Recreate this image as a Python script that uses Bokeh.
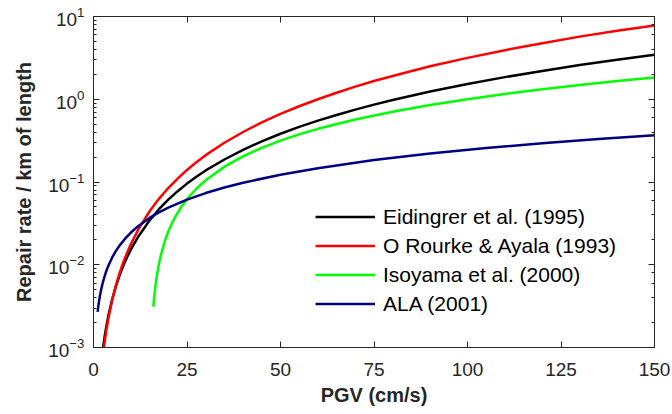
from bokeh.plotting import figure
from bokeh.models import LinearAxis, LogAxis, Legend, LegendItem, FixedTicker, Range1d, LogTicker
from bokeh.embed import file_html
from bokeh.resources import INLINE

# ---- data ----
x_ticks = [0, 25, 50, 75, 100, 125, 150]

pgv_eid = [2.4, 2.56, 3, 3.5, 4, 5, 6, 7, 8, 9, 10, 12, 15, 17.5, 20, 22.5, 25, 27.5, 30, 35, 40, 45,
           50, 55, 60, 65, 70, 75, 80, 90, 100, 110, 120, 130, 140, 150]
rr_eid = [8.8e-4, 1.0e-3, 1.38e-3, 1.87e-3, 2.45e-3, 3.83e-3, 5.51e-3, 7.50e-3, 9.79e-3, 0.0124, 0.0153,
          0.0220, 0.0344, 0.0469, 0.0612, 0.0775, 0.0956, 0.116, 0.138, 0.187, 0.245, 0.310, 0.383,
          0.463, 0.551, 0.646, 0.750, 0.861, 0.979, 1.24, 1.53, 1.85, 2.20, 2.59, 3.00, 3.44]

pgv_oro = [2.6, 2.8, 3, 3.5, 4, 5, 6, 7, 8, 9, 10, 12, 15, 17.5, 20, 22.5, 25, 27.5, 30, 35, 40, 45,
           50, 55, 60, 65, 70, 75, 80, 90, 100, 110, 120, 130, 140, 150]
rr_oro = [8.6e-4, 1.01e-3, 1.18e-3, 1.68e-3, 2.26e-3, 3.74e-3, 5.64e-3, 7.97e-3, 0.0108, 0.0140, 0.0178,
          0.0268, 0.0443, 0.0626, 0.0846, 0.110, 0.140, 0.173, 0.211, 0.298, 0.402, 0.525, 0.664,
          0.823, 1.00, 1.20, 1.42, 1.66, 1.91, 2.50, 3.16, 3.92, 4.76, 5.71, 6.74, 7.80]

pgv_iso = [16, 16.25, 16.5, 17, 17.5, 18, 19, 20, 21, 22, 23.5, 25, 27.5, 30, 35, 40, 45, 50, 55, 60,
           70, 80, 90, 100, 110, 120, 130, 140, 150]
rr_iso = [3.11e-3, 4.16e-3, 5.27e-3, 7.66e-3, 0.01024, 0.0130, 0.0189, 0.0252, 0.0319, 0.0390, 0.0502,
          0.0620, 0.0829, 0.105, 0.153, 0.204, 0.259, 0.316, 0.376, 0.439, 0.569, 0.707, 0.852, 1.00,
          1.16, 1.32, 1.49, 1.66, 1.83]

pgv_ala = [1.1, 1.25, 1.5, 1.75, 2, 2.5, 3, 3.5, 4, 5, 6, 7, 8.5, 10, 12, 15, 17.5, 20, 25, 30, 35, 40,
           50, 60, 75, 90, 105, 120, 135, 150]
rr_ala = [2.7e-3, 3.06e-3, 3.68e-3, 4.29e-3, 4.9e-3, 6.13e-3, 7.35e-3, 8.58e-3, 9.8e-3, 0.01225, 0.0147,
          0.01715, 0.0208, 0.0245, 0.0294, 0.0368, 0.0429, 0.049, 0.0613, 0.0735, 0.0858, 0.098,
          0.1225, 0.147, 0.184, 0.2205, 0.257, 0.294, 0.331, 0.368]

labels = ["Eidingrer et al. (1995)", "O Rourke & Ayala (1993)", "Isoyama et al. (2000)", "ALA (2001)"]
colors = ["#000000", "#ff0000", "#00ff00", "#000080"]

FONT = "Liberation Sans"
AX = "#262626"

p = figure(width=672, height=414, output_backend="svg", toolbar_location=None,
           x_range=Range1d(0, 150), y_range=Range1d(1e-3, 10), y_axis_type="log",
           min_border_left=93, min_border_right=18, min_border_top=16, min_border_bottom=67)
p.grid.visible = False
p.outline_line_color = AX
p.background_fill_color = "white"
p.border_fill_color = "white"


def style(ax, show_labels=True):
    ax.axis_line_color = AX
    ax.axis_line_width = 1
    ax.major_tick_line_color = AX
    ax.minor_tick_line_color = AX
    ax.major_tick_in = 6
    ax.major_tick_out = 0
    ax.minor_tick_in = 3
    ax.minor_tick_out = 0
    ax.major_label_text_font = FONT
    ax.major_label_text_color = AX
    if show_labels:
        ax.major_label_text_font_size = "19px"
    else:
        ax.major_label_text_font_size = "1px"
        ax.major_label_text_alpha = 0
        ax.major_label_standoff = 0


p.xaxis.ticker = FixedTicker(ticks=x_ticks, minor_ticks=[])
style(p.xaxis[0])
style(p.yaxis[0])
p.xaxis.major_label_standoff = 15
p.yaxis.major_label_standoff = 9
p.xaxis.axis_label = "PGV (cm/s)"
p.yaxis.axis_label = "Repair rate / km of length"
for ax in (p.xaxis[0], p.yaxis[0]):
    ax.axis_label_text_font = FONT
    ax.axis_label_text_font_style = "bold"
    ax.axis_label_text_font_size = "20px"
    ax.axis_label_text_color = AX
p.xaxis.axis_label_standoff = 5
p.yaxis.axis_label_standoff = 10

top = LinearAxis(ticker=FixedTicker(ticks=x_ticks, minor_ticks=[]))
style(top, False)
p.add_layout(top, "above")
right = LogAxis(ticker=LogTicker())
style(right, False)
p.add_layout(right, "right")

xs = [pgv_eid, pgv_oro, pgv_iso, pgv_ala]
ys = [rr_eid, rr_oro, rr_iso, rr_ala]
rends = []
for x, y, c in zip(xs, ys, colors):
    rends.append(p.line(x, y, line_color=c, line_width=2.5, line_join="round"))

legend = Legend(items=[LegendItem(label=l, renderers=[r]) for l, r in zip(labels, rends)],
                location=(222, 29), glyph_width=60, glyph_height=29, label_height=29,
                spacing=0, padding=0, margin=0, label_standoff=8,
                border_line_alpha=0, background_fill_alpha=0,
                label_text_font=FONT, label_text_font_size="21px", label_text_color="#000000")
p.add_layout(legend)

open("out.html", "w").write(file_html(p, INLINE))
